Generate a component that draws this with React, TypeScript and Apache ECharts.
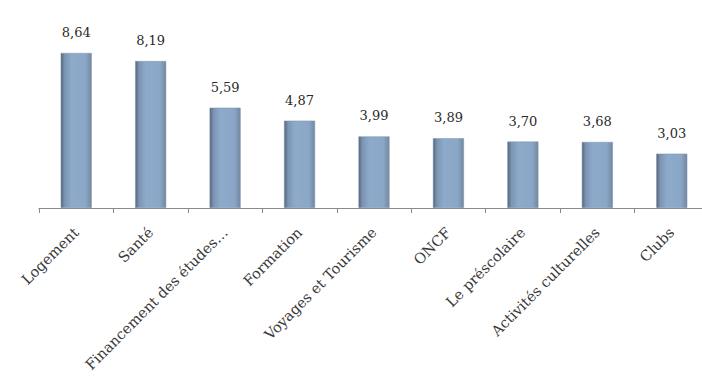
import React, { useEffect, useRef } from "react";
import * as echarts from "echarts";

const categories = [
  "Logement",
  "Santé",
  "Financement des études…",
  "Formation",
  "Voyages et Tourisme",
  "ONCF",
  "Le préscolaire",
  "Activités culturelles",
  "Clubs",
];
const values = [8.64, 8.19, 5.59, 4.87, 3.99, 3.89, 3.7, 3.68, 3.03];

export default function App() {
  const ref = useRef<HTMLDivElement>(null);
  useEffect(() => {
    if (!ref.current) return;
    const chart = echarts.init(ref.current, undefined, { renderer: "svg" });
    chart.setOption({
      animation: false,
      backgroundColor: "#ffffff",
      grid: {
        left: 39,
        right: -7,
        top: 28.6,
        height: 179.4,
        containLabel: false,
        outerBoundsMode: "none",
      },
      xAxis: {
        type: "category",
        data: categories,
        axisLine: { lineStyle: { color: "#8a8a8a", width: 1 } },
        axisTick: { show: true, length: 5, lineStyle: { color: "#8a8a8a" } },
        axisLabel: {
          rotate: 45,
          interval: 0,
          margin: 22,
          fontFamily: "DejaVu Serif",
          fontSize: 14.5,
          color: "#3a3a3a",
        },
      },
      yAxis: {
        type: "value",
        min: 0,
        max: 10,
        show: false,
        splitLine: { show: false },
      },
      series: [
        {
          type: "bar",
          data: values,
          barWidth: 31,
          itemStyle: {
            color: new echarts.graphic.LinearGradient(0, 0, 1, 0, [
              { offset: 0, color: "#55657a" },
              { offset: 0.12, color: "#7b94b2" },
              { offset: 0.35, color: "#8eaacb" },
              { offset: 0.8, color: "#8ba7c7" },
              { offset: 1, color: "#73889f" },
            ]),
            borderColor: "#7d93ad",
            borderWidth: 0.5,
          },
          label: {
            show: true,
            position: "top",
            distance: 14,
            fontFamily: "DejaVu Serif",
            fontSize: 13,
            color: "#2a2a2a",
            formatter: (p: any) => p.value.toFixed(2).replace(".", ","),
          },
        },
      ],
    });
    return () => chart.dispose();
  }, []);
  return (
    <div
      ref={ref}
      style={{ position: "absolute", left: 0, top: 0, width: 702, height: 376 }}
    />
  );
}
